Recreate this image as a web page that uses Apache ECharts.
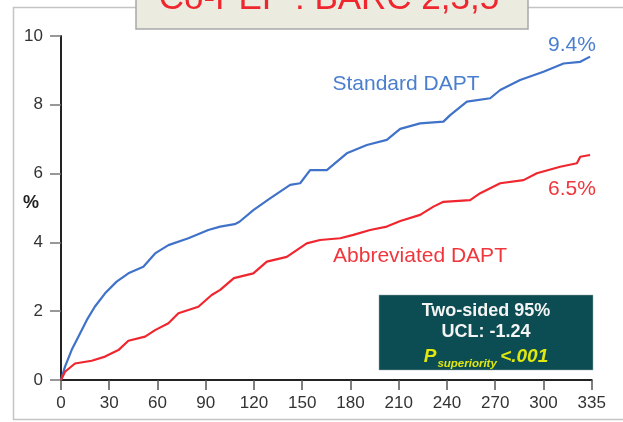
<!DOCTYPE html>
<html>
<head>
<meta charset="utf-8">
<script src="https://cdn.jsdelivr.net/npm/echarts@6/dist/echarts.min.js"></script>
<style>
html,body{margin:0;padding:0;background:#fff;}
#chart{width:623px;height:422px;}
</style>
</head>
<body>
<div id="chart"></div>
<script>
// Axis ticks (last tick is labelled 335 in the original, evenly spaced)
var xTicks = [0, 30, 60, 90, 120, 150, 180, 210, 240, 270, 300, 330];
var xTickLabels = ['0', '30', '60', '90', '120', '150', '180', '210', '240', '270', '300', '335'];
var yTicks = [0, 2, 4, 6, 8, 10];

// Standard DAPT (cumulative %), x in axis units
var stdX = [0, 2.5, 6.6, 10.8, 16, 21, 27.4, 34.6, 41.9, 51.2, 58.5, 66.8, 79.2, 91.6, 99, 108, 111, 119.6, 130, 142.5, 148.7, 154.9, 165.3, 177.7, 190.2, 202.6, 210.9, 223.3, 237.8, 242, 252.4, 266.9, 273.1, 285.5, 300, 312.5, 322.9, 329];
var stdY = [0, 0.39, 0.87, 1.26, 1.74, 2.13, 2.52, 2.86, 3.10, 3.29, 3.68, 3.92, 4.12, 4.36, 4.46, 4.53, 4.60, 4.94, 5.28, 5.67, 5.72, 6.10, 6.10, 6.59, 6.83, 6.98, 7.30, 7.46, 7.51, 7.70, 8.09, 8.19, 8.43, 8.72, 8.96, 9.20, 9.25, 9.4];

// Abbreviated DAPT (cumulative %)
var abbX = [0, 2.5, 8.7, 19.1, 27.4, 35.7, 41.9, 52.3, 58.5, 66.8, 73, 85.4, 93.7, 99, 107.5, 119.6, 128, 140.4, 152.8, 161.1, 173.6, 181.8, 192.2, 202.6, 211, 223.3, 231.6, 237.8, 254.4, 260.7, 273.1, 287.6, 295.9, 310.4, 320.8, 322.9, 329];
var abbY = [0, 0.24, 0.48, 0.56, 0.68, 0.87, 1.14, 1.26, 1.45, 1.65, 1.94, 2.13, 2.47, 2.62, 2.96, 3.10, 3.44, 3.58, 3.97, 4.07, 4.12, 4.22, 4.36, 4.46, 4.62, 4.80, 5.04, 5.18, 5.23, 5.43, 5.72, 5.81, 6.01, 6.20, 6.30, 6.49, 6.54];

var seriesNames = ['Standard DAPT', 'Abbreviated DAPT'];
var endLabels = ['9.4%', '6.5%'];
var titleText = 'Co-PEP : BARC 2,3,5';

function pairs(xs, ys) { return xs.map(function (x, i) { return [x, ys[i]]; }); }

var FONT = '"Liberation Sans", Arial, sans-serif';
var BLUE = '#3f72c8', RED = '#f0262e';
var chart = echarts.init(document.getElementById('chart'), null, {renderer: 'canvas'});
chart.setOption({
  animation: false,
  backgroundColor: '#ffffff',
  grid: {left: 61, right: 31.3, top: 36, bottom: 42},
  xAxis: {
    type: 'value', min: xTicks[0], max: xTicks[xTicks.length - 1], interval: 30,
    axisLine: {lineStyle: {color: '#222', width: 2}},
    axisTick: {length: 10, lineStyle: {color: '#555', width: 1.5}},
    axisLabel: {margin: 15, fontSize: 17, color: '#333', fontFamily: FONT,
      formatter: function (v) { var i = xTicks.indexOf(v); return i >= 0 ? xTickLabels[i] : ''; }},
    splitLine: {show: false}
  },
  yAxis: {
    type: 'value', min: yTicks[0], max: yTicks[yTicks.length - 1], interval: 2,
    axisLine: {show: true, lineStyle: {color: '#222', width: 2}},
    axisTick: {show: true, length: 11, lineStyle: {color: '#777', width: 1.5}},
    axisLabel: {margin: 18, fontSize: 17, color: '#333', fontFamily: FONT},
    splitLine: {show: false}
  },
  series: [
    {name: seriesNames[0], type: 'line', data: pairs(stdX, stdY), showSymbol: false,
      lineStyle: {color: BLUE, width: 2.2}, z: 3},
    {name: seriesNames[1], type: 'line', data: pairs(abbX, abbY), showSymbol: false,
      lineStyle: {color: RED, width: 2.2}, z: 3}
  ],
  graphic: [
    {type: 'rect', shape: {x: 13.5, y: 7.5, width: 640, height: 412}, silent: true,
      style: {fill: 'none', stroke: '#c4c4c4', lineWidth: 1.5}, z: 0},
    {type: 'rect', shape: {x: 136, y: -6, width: 392, height: 35}, silent: true,
      style: {fill: '#ecebe0', stroke: '#a8a8a8', lineWidth: 1.5}, z: 10},
    {type: 'text', x: 329, y: -0.8, silent: true, z: 11,
      style: {text: titleText, fill: RED, font: '35px ' + FONT, textAlign: 'center', textVerticalAlign: 'middle'}},
    {type: 'text', x: 31, y: 203, silent: true,
      style: {text: '%', fill: '#222', font: 'bold 18px ' + FONT, textAlign: 'center', textVerticalAlign: 'middle'}},
    {type: 'text', x: 406, y: 84, silent: true,
      style: {text: seriesNames[0], fill: '#4a7fcf', font: '21px ' + FONT, textAlign: 'center', textVerticalAlign: 'middle'}},
    {type: 'text', x: 572, y: 45, silent: true,
      style: {text: endLabels[0], fill: '#4a7fcf', font: '21px ' + FONT, textAlign: 'center', textVerticalAlign: 'middle'}},
    {type: 'text', x: 420, y: 256, silent: true,
      style: {text: seriesNames[1], fill: '#f0363c', font: '21px ' + FONT, textAlign: 'center', textVerticalAlign: 'middle'}},
    {type: 'text', x: 572, y: 189.5, silent: true,
      style: {text: endLabels[1], fill: '#f0363c', font: '21px ' + FONT, textAlign: 'center', textVerticalAlign: 'middle'}},
    {type: 'rect', shape: {x: 379, y: 295, width: 214, height: 75}, silent: true,
      style: {fill: '#0b4d52', stroke: '#9aa', lineWidth: 0.5}, z: 5},
    {type: 'text', x: 486, y: 311, silent: true, z: 6,
      style: {text: 'Two-sided 95%', fill: '#f4f4f4', font: 'bold 18px ' + FONT, textAlign: 'center', textVerticalAlign: 'middle'}},
    {type: 'text', x: 486, y: 332.5, silent: true, z: 6,
      style: {text: 'UCL: -1.24', fill: '#f4f4f4', font: 'bold 18px ' + FONT, textAlign: 'center', textVerticalAlign: 'middle'}},
    {type: 'text', x: 486, y: 355, silent: true, z: 6,
      style: {
        text: '{p|P}{s|superiority} {p|<.001}',
        textAlign: 'center', textVerticalAlign: 'middle',
        rich: {
          p: {fill: '#e0e810', fontSize: 19, fontWeight: 'bold', fontStyle: 'italic', fontFamily: FONT, verticalAlign: 'bottom', lineHeight: 22},
          s: {fill: '#e0e810', fontSize: 11.5, fontWeight: 'bold', fontStyle: 'italic', fontFamily: FONT, verticalAlign: 'bottom', lineHeight: 15, padding: [0, 0, -4, 1]}
        }
      }}
  ]
});
</script>
</body>
</html>
